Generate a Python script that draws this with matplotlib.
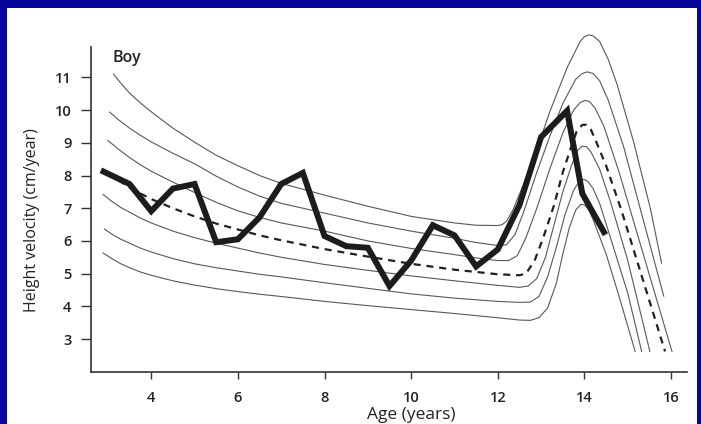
import numpy as np
import matplotlib
matplotlib.use('Agg')
import matplotlib.pyplot as plt
from matplotlib.patches import Rectangle

plt.rcParams['font.family'] = ['Open Sans', 'DejaVu Sans']

# reference centiles of height velocity (boys): 3rd, 10th, 25th, 50th, 75th, 90th, 97th
age_c3 = [2.89, 3.1, 3.3, 3.5, 3.75, 4, 4.5, 5, 5.5, 6, 6.5, 7, 8, 9, 10, 11, 12, 12.5, 12.75, 12.95, 13.15, 13.35, 13.5, 13.65, 13.8, 13.92, 14.0, 14.1, 14.2, 14.5, 14.8, 15.17]
vel_c3 = [5.63, 5.45, 5.3, 5.18, 5.05, 4.95, 4.78, 4.65, 4.54, 4.45, 4.37, 4.3, 4.15, 4.02, 3.9, 3.78, 3.65, 3.58, 3.57, 3.65, 3.95, 4.7, 5.6, 6.4, 6.95, 7.12, 7.1, 6.95, 6.65, 5.6, 4.3, 2.62]

age_c10 = [2.92, 3.1, 3.3, 3.5, 3.75, 4, 4.5, 5, 5.5, 6, 6.5, 7, 8, 9, 10, 11, 12, 12.5, 12.75, 12.95, 13.15, 13.35, 13.55, 13.75, 13.88, 13.99, 14.08, 14.2, 14.35, 14.6, 15.0, 15.32]
vel_c10 = [6.36, 6.2, 6.05, 5.93, 5.78, 5.66, 5.46, 5.3, 5.18, 5.08, 4.98, 4.9, 4.72, 4.55, 4.38, 4.25, 4.15, 4.12, 4.13, 4.3, 4.9, 5.8, 6.8, 7.55, 7.82, 7.88, 7.82, 7.6, 7.15, 6.1, 4.4, 2.62]

age_c25 = [2.89, 3.1, 3.3, 3.5, 3.75, 4, 4.5, 5, 5.5, 6, 6.5, 7, 8, 9, 10, 11, 12, 12.5, 12.7, 12.9, 13.1, 13.3, 13.5, 13.7, 13.83, 13.95, 14.05, 14.15, 14.35, 14.6, 15.0, 15.51]
vel_c25 = [7.42, 7.2, 7.02, 6.88, 6.7, 6.55, 6.3, 6.1, 5.93, 5.78, 5.63, 5.5, 5.28, 5.1, 4.93, 4.78, 4.64, 4.58, 4.62, 4.85, 5.5, 6.5, 7.5, 8.3, 8.75, 8.9, 8.88, 8.72, 8.2, 7.2, 5.4, 2.62]

age_c50 = [3.0, 3.25, 3.5, 3.75, 4, 4.5, 5, 5.5, 6, 6.5, 7, 8, 9, 10, 11, 12, 12.5, 12.65, 12.85, 13.05, 13.3, 13.5, 13.7, 13.82, 13.95, 14.05, 14.15, 14.25, 14.5, 14.85, 15.86]
vel_c50 = [8.1, 7.85, 7.63, 7.45, 7.28, 7.0, 6.75, 6.53, 6.35, 6.17, 6.02, 5.75, 5.52, 5.3, 5.12, 4.98, 4.95, 5.0, 5.4, 6.1, 7.1, 8.1, 8.9, 9.35, 9.55, 9.55, 9.4, 9.1, 8.3, 6.95, 2.62]

age_c75 = [3.0, 3.25, 3.5, 3.75, 4, 4.5, 5, 5.5, 6, 6.5, 7, 8, 9, 10, 11, 11.5, 12, 12.25, 12.45, 12.65, 12.9, 13.2, 13.5, 13.75, 13.9, 14.02, 14.12, 14.25, 14.45, 14.8, 16.02]
vel_c75 = [9.07, 8.8, 8.55, 8.33, 8.13, 7.8, 7.48, 7.18, 6.92, 6.72, 6.55, 6.3, 6.0, 5.77, 5.58, 5.48, 5.4, 5.4, 5.55, 6.1, 7.0, 8.2, 9.3, 10.0, 10.23, 10.3, 10.26, 10.05, 9.5, 8.1, 2.62]

age_c90 = [3.04, 3.25, 3.5, 3.75, 4, 4.5, 5, 5.5, 6, 6.5, 7, 8, 9, 10, 11, 11.5, 12, 12.2, 12.4, 12.6, 12.9, 13.2, 13.5, 13.8, 13.95, 14.07, 14.2, 14.35, 14.55, 14.9, 15.83]
vel_c90 = [9.94, 9.7, 9.45, 9.23, 9.03, 8.68, 8.36, 7.98, 7.65, 7.37, 7.15, 6.85, 6.55, 6.3, 6.08, 5.95, 5.86, 5.88, 6.2, 6.9, 8.1, 9.2, 10.2, 10.95, 11.12, 11.17, 11.12, 10.9, 10.3, 8.9, 4.31]

age_c97 = [3.13, 3.3, 3.5, 3.75, 4, 4.5, 5, 5.5, 6, 6.5, 7, 8, 9, 10, 11, 11.5, 12, 12.1, 12.2, 12.35, 12.6, 12.85, 13.2, 13.6, 13.9, 14.0, 14.1, 14.2, 14.35, 14.55, 14.75, 15.13, 15.52, 15.78]
vel_c97 = [11.1, 10.82, 10.52, 10.22, 9.95, 9.45, 9.02, 8.62, 8.3, 8.0, 7.76, 7.4, 7.06, 6.75, 6.55, 6.48, 6.47, 6.5, 6.6, 6.95, 7.75, 8.6, 9.95, 11.3, 12.1, 12.25, 12.3, 12.27, 12.1, 11.55, 10.8, 9.05, 7.0, 5.32]

# measured velocity of the boy
boy_age = [2.9, 3.5, 4.0, 4.5, 5.0, 5.5, 6.0, 6.5, 7.0, 7.5, 8.0, 8.5, 9.0, 9.5, 10.0, 10.5, 11.0, 11.5, 12.0, 12.5, 13.0, 13.6, 13.95, 14.45]
boy_vel = [8.12, 7.74, 6.91, 7.6, 7.74, 5.96, 6.05, 6.72, 7.74, 8.08, 6.15, 5.84, 5.79, 4.62, 5.4, 6.48, 6.17, 5.22, 5.74, 7.1, 9.18, 9.98, 7.45, 6.27]

xticks = [4, 6, 8, 10, 12, 14, 16]
yticks = [3, 4, 5, 6, 7, 8, 9, 10, 11]

fig = plt.figure(figsize=(7.01, 4.24), dpi=100)
fig.patch.set_facecolor('#06069a')
fig.patches.append(Rectangle((7 / 701, 0), 690 / 701, 416 / 424, transform=fig.transFigure,
                             facecolor='white', edgecolor='none', zorder=-10))

ax = fig.add_axes([91 / 701, 52.3 / 424, 595.7 / 701, 325 / 424])
ax.set_zorder(5)
ax.patch.set_alpha(0)

thin = dict(color='#585858', lw=0.8, clip_on=False)
ax.plot(age_c3, vel_c3, **thin)
ax.plot(age_c10, vel_c10, **thin)
ax.plot(age_c25, vel_c25, **thin)
ax.plot(age_c75, vel_c75, **thin)
ax.plot(age_c90, vel_c90, **thin)
ax.plot(age_c97, vel_c97, **thin)
ax.plot(age_c50, vel_c50, color='#222222', lw=1.6, dashes=(3.2, 2.6), clip_on=False)

ax.plot(boy_age, boy_vel, color='#1c1c1c', lw=4.3, solid_joinstyle='miter', clip_on=False)

ax.set_xlim(2.61, 16.36)
ax.set_ylim(2.0, 11.94)
ax.spines['top'].set_visible(False)
ax.spines['right'].set_visible(False)
for s in ['left', 'bottom']:
    ax.spines[s].set_color('#333333')
    ax.spines[s].set_linewidth(1.2)

ax.set_xticks(xticks)
ax.set_yticks(yticks)
ax.tick_params(axis='y', length=7, width=1.0, color='#333333', pad=7, labelsize=10.5)
ax.tick_params(axis='x', length=5, width=1.0, color='#333333', pad=9, labelsize=10.5)
for lab in ax.get_xticklabels() + ax.get_yticklabels():
    lab.set_fontweight('semibold')
    lab.set_color('#222222')

ax.set_xlabel('Age (years)', fontsize=12.5, color='#222222', va='top')
ax.xaxis.set_label_coords(0.537, -0.11)
ax.set_ylabel('Height velocity (cm/year)', fontsize=11.5, color='#222222')
ax.yaxis.set_label_coords(-0.0856, 0.468)
ax.text(3.1, 11.6, 'Boy', fontsize=11.5, fontweight='semibold', color='#222222', va='center')

fig.savefig('out.png', dpi=100, facecolor=fig.get_facecolor())
